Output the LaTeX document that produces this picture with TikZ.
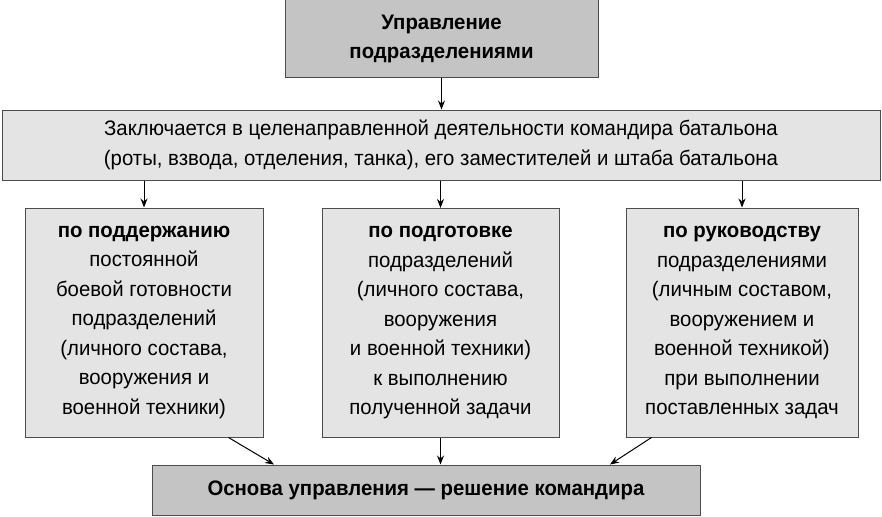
\documentclass[tikz,border=0pt]{standalone}
\usepackage{fontspec}
\setmainfont[FakeStretch=0.97]{Liberation Sans}
\usetikzlibrary{arrows.meta,positioning}
\definecolor{darkbox}{HTML}{C4C4C4}
\definecolor{lightbox}{HTML}{E4E4E4}
\begin{document}
\begin{tikzpicture}[x=1pt,y=-1pt,
  box/.style={draw=black!70, line width=1pt, align=center, inner sep=0pt,
    font=\fontsize{21}{29.5}\selectfont},
  arr/.style={-{Stealth[length=9pt,width=7pt]}, line width=1pt}]
\useasboundingbox (0,0) rectangle (882,516);
% top
\node[box, fill=darkbox, minimum width=313pt, minimum height=78pt] (upr) at (441.5,39)
  {\textbf{Управление}\\\textbf{подразделениями}};
\node[box, fill=lightbox, minimum width=878pt, minimum height=70pt] (zakl) at (441,145)
  {Заключается в целенаправленной деятельности командира батальона\\(роты, взвода, отделения, танка), его заместителей и штаба батальона};
% three boxes
\node[box, fill=lightbox, minimum width=238pt, minimum height=229pt] (left) at (144,322.5)
  {\textbf{по поддержанию}\\постоянной\\боевой готовности\\подразделений\\(личного состава,\\вооружения и\\военной техники)};
\node[box, fill=lightbox, minimum width=237pt, minimum height=229pt, anchor=north] (mid) at (440.5,208)
  {\textbf{по подготовке}\\подразделений\\(личного состава,\\вооружения\\и военной техники)\\к выполнению\\полученной задачи};
\node[box, fill=lightbox, minimum width=232pt, minimum height=229pt] (right) at (742,322.5)
  {\textbf{по руководству}\\подразделениями\\(личным составом,\\вооружением и\\военной техникой)\\при выполнении\\поставленных задач};
% bottom
\node[box, fill=darkbox, minimum width=548pt, minimum height=50pt] (osn) at (426,490)
  {\textbf{Основа управления — решение командира}};
% arrows
\draw[arr] (upr.south) -- (upr.south |- zakl.north);
\draw[arr] (zakl.south -| left) -- (left.north);
\draw[arr] (zakl.south -| mid) -- (mid.north);
\draw[arr] (zakl.south -| right) -- (right.north);
\draw[arr] ([xshift=-35pt]left.south east) -- ([xshift=-152pt]osn.north);
\draw[arr] (mid.south) -- (mid.south |- osn.north);
\draw[arr] ([xshift=26pt]right.south west) -- ([xshift=184pt]osn.north);
\end{tikzpicture}
\end{document}
